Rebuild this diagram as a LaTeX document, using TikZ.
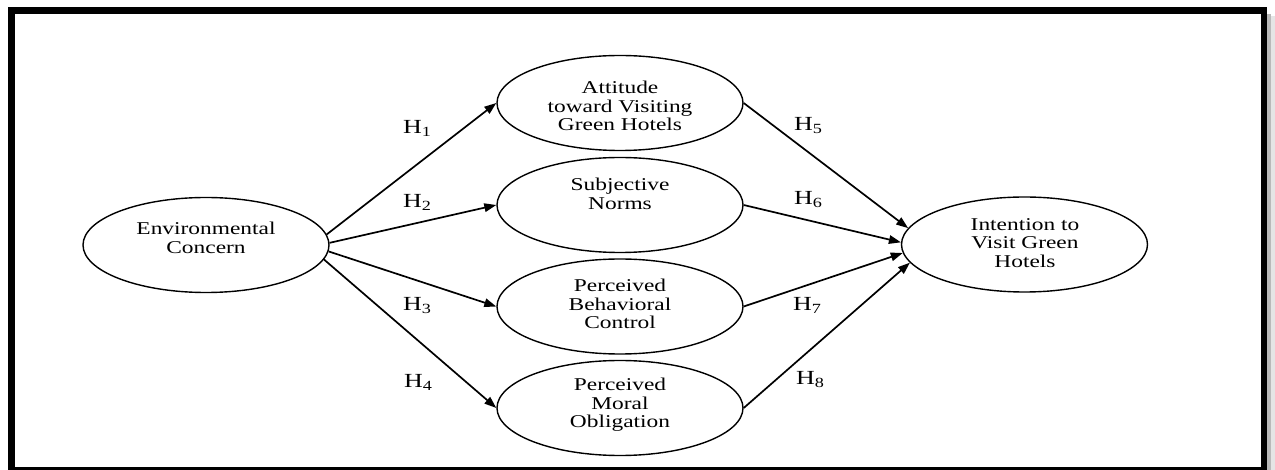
\documentclass[tikz,border=0pt]{standalone}
\usepackage{fontspec}
\setmainfont{Liberation Serif}[FakeStretch=1.3]
\usetikzlibrary{shapes.geometric,arrows.meta}
\newcommand\hypsub[1]{H\raisebox{-3pt}{\fontsize{14}{14}\selectfont #1}}
\begin{document}
\begin{tikzpicture}[x=1pt,y=-1pt,
  construct/.style={ellipse, draw=black, line width=1.4pt,
    minimum width=246pt, minimum height=95pt, inner sep=0pt},
  caption/.style={align=center, inner sep=0pt,
    font=\fontsize{18}{18.5}\selectfont},
  link/.style={line width=1.7pt, -{Triangle[length=12pt,width=8.5pt]}},
  hyp/.style={inner sep=0pt, font=\fontsize{20}{20}\selectfont}]
\clip (0,0) rectangle (1275,470);
\fill[white] (0,0) rectangle (1275,470);

% framed panel with a soft shadow on the right
\fill[gray!55] (1266,14) rectangle (1271,470);
\fill[gray!20] (1271,16) rectangle (1275,470);
\draw[line width=6.5pt] (11.5,10.3) rectangle (1264,470);

% constructs
\node[construct] (env) at (206,245) {};
\node[construct] (att) at (620,103) {};
\node[construct] (sub) at (620,205) {};
\node[construct] (pbc) at (620,306.5) {};
\node[construct] (pmo) at (620,408) {};
\node[construct] (int) at (1024.5,244.5) {};

% construct names
\node[caption] (env-t) at (206,238) {Environmental\\Concern};
\node[caption] (att-t) at (620,106) {Attitude\\toward Visiting\\Green Hotels};
\node[caption] (sub-t) at (620,194) {Subjective\\Norms};
\node[caption] (pbc-t) at (620,304) {Perceived\\Behavioral\\Control};
\node[caption] (pmo-t) at (620,405) {Perceived\\Moral\\Obligation};
\node[caption] (int-t) at (1025,243) {Intention to\\Visit Green\\Hotels};

% hypothesised paths
\draw[link] (env.5) -- (att.west);
\draw[link] (env.1) -- (sub.west);
\draw[link] (env.-3) -- (pbc.west);
\draw[link] (env.-7) -- (pmo.west);
\draw[link] (att.east) -- (int.172);
\draw[link] (sub.east) -- (int.179);
\draw[link] (pbc.east) -- (int.184);
\draw[link] (pmo.east) -- (int.189);

% hypothesis labels
\node[hyp] (h1) at (417,128) {\hypsub{1}};
\node[hyp] (h2) at (417,202) {\hypsub{2}};
\node[hyp] (h3) at (417,306) {\hypsub{3}};
\node[hyp] (h4) at (418,382) {\hypsub{4}};
\node[hyp] (h5) at (808,126) {\hypsub{5}};
\node[hyp] (h6) at (808,200) {\hypsub{6}};
\node[hyp] (h7) at (807,305) {\hypsub{7}};
\node[hyp] (h8) at (810,380) {\hypsub{8}};
\end{tikzpicture}
\end{document}
